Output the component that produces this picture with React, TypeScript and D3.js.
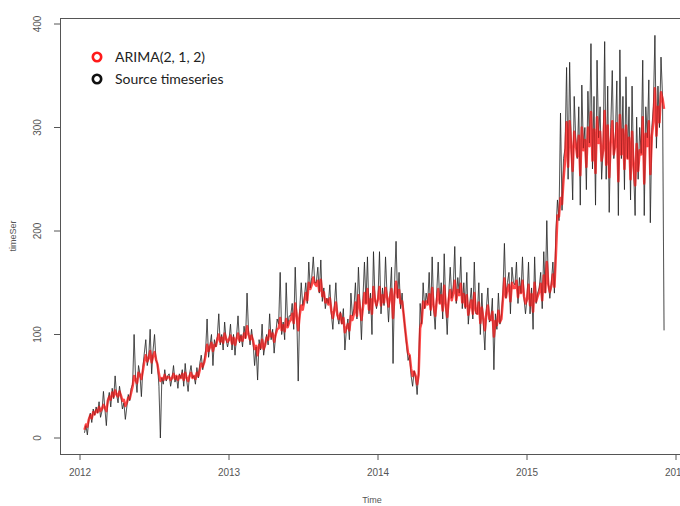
import React from 'react';
import * as d3 from 'd3';

// twice-weekly readings of the source series, one array per year
const source2012 = [
  5, 12, 3, 18, 24, 15, 28, 22,
  30, 24, 35, 20, 26, 45, 28, 12,
  36, 44, 30, 48, 38, 60, 42, 34, 50,
  40, 28, 34, 18, 30, 42, 36, 48,
  52, 100, 58, 44, 70, 62, 40, 68,
  82, 95, 70, 78, 105, 62, 85, 100, 75,
  72, 50, 0, 58, 52, 66, 55, 60,
  62, 50, 58, 70, 54, 60, 48, 62,
  58, 66, 50, 72, 56, 45, 62, 70, 58,
  60, 52, 68, 58, 72, 80, 66, 74,
  85, 115, 78, 90, 100, 70, 95, 88,
  98, 120, 90, 100, 85, 112, 95, 88,
];
const source2013 = [
  95, 110, 85, 100, 80, 98, 118, 92,
  100, 88, 108, 96, 140, 102, 90, 105,
  92, 70, 88, 56, 95, 85, 110, 80, 90,
  100, 90, 120, 95, 105, 82, 100, 115,
  110, 160, 100, 112, 95, 150, 108, 118,
  118, 130, 105, 165, 120, 55, 125, 150, 128,
  135, 150, 130, 170, 145, 155, 175, 150,
  150, 165, 140, 172, 132, 145, 125, 135,
  130, 148, 120, 105, 128, 150, 118, 110, 122,
  110, 125, 85, 105, 115, 95, 140, 118,
  125, 150, 115, 165, 130, 95, 135, 170,
  130, 175, 120, 140, 100, 180, 135, 125,
];
const source2014 = [
  135, 180, 120, 145, 128, 175, 138, 112,
  140, 165, 72, 150, 190, 135, 160, 125,
  140, 120, 105, 90, 75, 80, 60, 50, 65,
  58, 42, 65, 130, 110, 150, 125, 140,
  130, 160, 118, 175, 125, 105, 140, 170,
  130, 150, 115, 178, 128, 100, 140, 165, 135,
  145, 185, 130, 155, 140, 175, 125, 150,
  125, 160, 110, 130, 145, 115, 170, 120,
  120, 150, 100, 140, 110, 85, 125, 145, 112,
  115, 135, 66, 120, 105, 140, 110, 118,
  140, 188, 135, 150, 160, 120, 165, 150,
  148, 170, 130, 155, 140, 175, 135, 120,
];
const source2015 = [
  135, 170, 120, 145, 105, 175, 130, 140,
  145, 160, 125, 180, 140, 210, 150, 135,
  150, 170, 140, 200, 230, 210, 314, 220, 270,
  280, 358, 250, 363, 285, 230, 330, 290,
  270, 320, 225, 341, 280, 300, 240, 335,
  285, 381, 260, 330, 225, 365, 290, 320, 250,
  280, 383, 250, 340, 218, 300, 355, 270,
  290, 345, 215, 375, 270, 330, 240, 349,
  270, 320, 230, 340, 260, 215, 310, 250, 300,
  275, 365, 215, 320, 290, 346, 208, 300,
  320, 389, 280, 340, 300, 368, 330, 104,
];

// ARIMA(2, 1, 2) fitted values, same spacing
const arima2012 = [
  8, 13, 11, 18, 22, 19, 25, 23,
  27, 25, 30, 26, 28, 32, 29, 26,
  36, 40, 37, 44, 40, 46, 42, 40, 45,
  41, 36, 37, 31, 34, 39, 38, 44,
  50, 60, 56, 53, 63, 61, 57, 65,
  74, 80, 74, 77, 84, 73, 79, 83, 76,
  71, 62, 55, 58, 56, 61, 57, 59,
  59, 56, 58, 62, 57, 60, 56, 60,
  58, 62, 56, 63, 58, 55, 60, 63, 58,
  60, 57, 63, 60, 66, 72, 69, 73,
  80, 90, 84, 88, 92, 84, 90, 89,
  95, 100, 93, 97, 92, 101, 96, 93,
];
const arima2013 = [
  95, 99, 91, 97, 90, 96, 101, 94,
  98, 94, 101, 97, 108, 100, 95, 99,
  94, 86, 89, 80, 90, 87, 95, 86, 90,
  97, 95, 104, 98, 101, 93, 100, 105,
  106, 116, 104, 109, 103, 115, 107, 112,
  114, 120, 111, 130, 118, 104, 119, 128, 124,
  132, 140, 133, 150, 144, 148, 155, 149,
  147, 152, 142, 153, 137, 141, 131, 134,
  129, 135, 123, 116, 124, 131, 119, 115, 120,
  111, 116, 102, 106, 110, 104, 118, 114,
  120, 131, 118, 138, 126, 114, 126, 140,
  130, 144, 124, 134, 120, 146, 133, 128,
];
const arima2014 = [
  134, 146, 128, 138, 131, 145, 136, 127,
  136, 144, 116, 139, 151, 136, 143, 130,
  132, 120, 106, 93, 82, 80, 67, 60, 64,
  60, 52, 61, 106, 112, 132, 126, 132,
  129, 139, 124, 145, 127, 118, 132, 144,
  130, 138, 123, 147, 129, 117, 134, 143, 133,
  140, 152, 133, 143, 138, 149, 131, 139,
  127, 138, 119, 127, 133, 120, 140, 123,
  120, 131, 111, 126, 115, 104, 120, 128, 115,
  114, 122, 98, 113, 109, 123, 112, 115,
  134, 154, 136, 144, 148, 132, 150, 145,
  145, 152, 136, 146, 140, 152, 137, 130,
];
const arima2015 = [
  134, 148, 128, 139, 122, 150, 132, 137,
  141, 149, 133, 157, 141, 170, 148, 141,
  147, 158, 146, 178, 215, 214, 232, 226, 250,
  268, 305, 262, 306, 282, 258, 296, 284,
  272, 292, 254, 300, 278, 288, 262, 300,
  282, 315, 268, 298, 256, 310, 285, 296, 268,
  278, 316, 264, 302, 252, 286, 306, 274,
  283, 304, 248, 312, 274, 298, 260, 302,
  270, 290, 250, 296, 262, 244, 284, 258, 278,
  274, 310, 246, 294, 282, 306, 255, 292,
  305, 338, 292, 320, 305, 334, 328, 318,
];

// time span covered by each yearly array
const yearSpans: [number, number][] = [[2012.03, 2013], [2013, 2014], [2014, 2015], [2015, 2015.93]];

const xTicks = [2012, 2013, 2014, 2015, 2016];
const yTicks = [0, 100, 200, 300, 400];
const legendItems = [
  { label: 'ARIMA(2, 1, 2)', color: '#ff1a1a' },
  { label: 'Source timeseries', color: '#111' },
];

const toPoints = (chunks: number[][]) =>
  chunks.flatMap((vals, k) => {
    const [a, b] = yearSpans[k];
    return vals.map((v, i) => [a + (i * (b - a)) / vals.length, v] as [number, number]);
  });

export default function App() {
  const left = 60, top = 18, bottom = 454, right = 700;
  const x = d3.scaleLinear().domain([2012, 2016]).range([80, 676]);
  const y = d3.scaleLinear().domain([0, 400]).range([438, 24]);

  const line = d3.line<[number, number]>().x(d => x(d[0])).y(d => y(d[1]));
  const sourcePath = line(toPoints([source2012, source2013, source2014, source2015])) || '';
  const arimaPath = line(toPoints([arima2012, arima2013, arima2014, arima2015])) || '';

  const axisFont = '"Liberation Sans", Arial, sans-serif';

  return (
    <svg width={680} height={506} style={{ position: 'fixed', left: 0, top: 0, background: '#fff' }}>
      <path d={sourcePath} fill="none" stroke="#222" strokeWidth={0.8} strokeOpacity={0.9} />
      <path d={arimaPath} fill="none" stroke="#ff1a1a" strokeWidth={2.5} strokeOpacity={0.8} strokeLinejoin="round" />
      <path d={sourcePath} fill="none" stroke="#222" strokeWidth={0.6} strokeOpacity={0.3} />

      <rect x={left + 0.5} y={top + 0.5} width={right - left} height={bottom - top} fill="none" stroke="#555" />

      {xTicks.map(t => (
        <g key={t}>
          <line x1={x(t)} x2={x(t)} y1={bottom} y2={bottom + 6} stroke="#555" />
          <text x={x(t)} y={bottom + 22} textAnchor="middle" fontSize={10} fill="#555" fontFamily={axisFont}>{t}</text>
        </g>
      ))}
      {yTicks.map(v => (
        <g key={v}>
          <line x1={left - 6} x2={left} y1={y(v)} y2={y(v)} stroke="#555" />
          <text x={41} y={y(v)} transform={`rotate(-90, 41, ${y(v)})`} textAnchor="middle" fontSize={10} fill="#555" fontFamily={axisFont}>{v}</text>
        </g>
      ))}

      <text x={372} y={503} textAnchor="middle" fontSize={9} fill="#555" fontFamily={axisFont}>Time</text>
      <text x={16} y={236} transform="rotate(-90, 16, 236)" textAnchor="middle" fontSize={9} fill="#555" fontFamily={axisFont}>timeSer</text>

      {legendItems.map((d, i) => (
        <g key={d.label} transform={`translate(97, ${57 + i * 22})`}>
          <circle r={4.2} fill="#fff" stroke={d.color} strokeWidth={2.6} />
          <text x={18} y={5} fontSize={14} fill="#222" fontFamily="Lato, sans-serif">{d.label}</text>
        </g>
      ))}
    </svg>
  );
}
